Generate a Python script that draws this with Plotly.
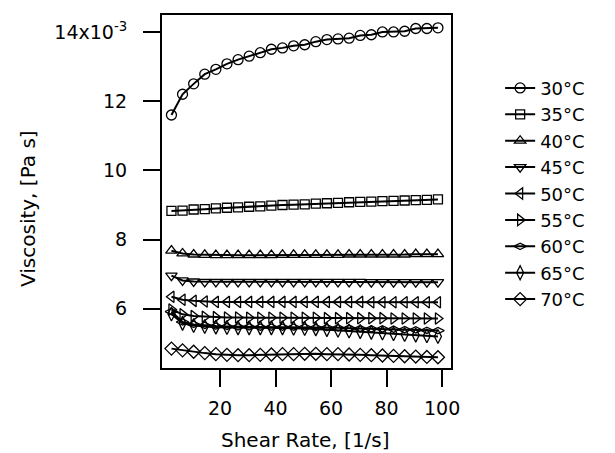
import numpy as np
import plotly.graph_objects as go

# shear rate, 1/s
shear_rate = [2.5, 6.5, 10.5, 14.5, 18.5, 22.5, 26.5, 30.5, 34.5, 38.5, 42.5, 46.5, 50.5,
              54.5, 58.5, 62.5, 66.5, 70.5, 74.5, 78.5, 82.5, 86.5, 90.5, 94.5, 98.5]

# viscosity in units of 1e-3 Pa s
visc_30 = [11.60, 12.20, 12.50, 12.78, 12.92, 13.08, 13.20, 13.30, 13.40, 13.50, 13.54, 13.60, 13.63,
           13.72, 13.78, 13.80, 13.82, 13.90, 13.92, 14.00, 14.00, 14.02, 14.10, 14.10, 14.12]
visc_35 = [8.83, 8.84, 8.87, 8.88, 8.90, 8.92, 8.93, 8.95, 8.96, 8.98, 9.00, 9.01, 9.02,
           9.04, 9.05, 9.06, 9.08, 9.09, 9.10, 9.11, 9.12, 9.13, 9.14, 9.15, 9.16]
visc_40 = [7.68, 7.60, 7.57, 7.56, 7.55, 7.55, 7.55, 7.55, 7.55, 7.55, 7.56, 7.56, 7.56,
           7.56, 7.56, 7.56, 7.57, 7.57, 7.57, 7.57, 7.57, 7.57, 7.58, 7.58, 7.58]
visc_45 = [6.96, 6.82, 6.79, 6.78, 6.78, 6.78, 6.78, 6.78, 6.78, 6.78, 6.78, 6.78, 6.78,
           6.78, 6.78, 6.78, 6.78, 6.78, 6.77, 6.77, 6.77, 6.77, 6.77, 6.77, 6.77]
visc_50 = [6.35, 6.26, 6.23, 6.21, 6.20, 6.20, 6.20, 6.20, 6.20, 6.20, 6.20, 6.20, 6.20,
           6.20, 6.20, 6.20, 6.20, 6.20, 6.19, 6.19, 6.19, 6.19, 6.19, 6.19, 6.19]
visc_55 = [5.98, 5.84, 5.79, 5.77, 5.76, 5.75, 5.75, 5.74, 5.74, 5.74, 5.74, 5.74, 5.74,
           5.74, 5.73, 5.73, 5.73, 5.73, 5.73, 5.73, 5.72, 5.72, 5.72, 5.72, 5.72]
visc_60 = [5.92, 5.62, 5.55, 5.52, 5.50, 5.49, 5.48, 5.48, 5.47, 5.47, 5.47, 5.47, 5.47,
           5.46, 5.46, 5.45, 5.44, 5.43, 5.42, 5.42, 5.41, 5.40, 5.39, 5.38, 5.37]
visc_65 = [5.85, 5.58, 5.52, 5.49, 5.47, 5.46, 5.45, 5.45, 5.45, 5.45, 5.45, 5.44, 5.43,
           5.42, 5.40, 5.38, 5.36, 5.34, 5.32, 5.30, 5.28, 5.26, 5.24, 5.22, 5.20]
visc_70 = [4.85, 4.80, 4.76, 4.72, 4.69, 4.67, 4.66, 4.66, 4.67, 4.68, 4.69, 4.69, 4.70,
           4.70, 4.69, 4.69, 4.68, 4.67, 4.66, 4.65, 4.64, 4.63, 4.62, 4.61, 4.60]

series = [
    ("30°C", visc_30, "circle-open", 10),
    ("35°C", visc_35, "square-open", 9),
    ("40°C", visc_40, "triangle-up-open", 10),
    ("45°C", visc_45, "triangle-down-open", 10),
    ("50°C", visc_50, "triangle-left-open", 10),
    ("55°C", visc_55, "triangle-right-open", 10),
    ("60°C", visc_60, "diamond-wide-open", 9),
    ("65°C", visc_65, "diamond-tall-open", 10),
    ("70°C", visc_70, "diamond-open", 10),
]

y_ticks = [6, 8, 10, 12, 14]
y_ticktext = ["6", "8", "10", "12", "14x10<sup>-3</sup>"]
x_ticks = [20, 40, 60, 80, 100]

fig = go.Figure()

for name, vals, sym, size in series:
    fig.add_trace(go.Scatter(
        x=shear_rate,
        y=np.array(vals) * 1e-3,
        mode="lines+markers",
        name=name,
        line=dict(color="black", width=2),
        marker=dict(symbol=sym, size=size, color="black", line=dict(width=1.3, color="black")),
    ))

# page body adds an 8px offset, margins are compensated for it
fig.update_layout(
    width=615, height=453,
    margin=dict(l=154, r=172, t=7, b=93),
    paper_bgcolor="white",
    plot_bgcolor="white",
    font=dict(family="DejaVu Sans, Liberation Sans, sans-serif", size=19, color="black"),
    showlegend=True,
    legend=dict(
        x=1.17, y=0.845, xanchor="left", yanchor="top",
        font=dict(size=18),
        bgcolor="rgba(0,0,0,0)",
    ),
    annotations=[
        dict(text="Viscosity, [Pa s]", xref="paper", yref="paper", x=-0.464, y=0.453,
             xanchor="center", yanchor="middle", textangle=-90, showarrow=False,
             font=dict(size=20)),
        dict(text="Shear Rate, [1/s]", xref="paper", yref="paper", x=0.495, y=-0.203,
             xanchor="center", yanchor="middle", showarrow=False, font=dict(size=20)),
    ],
)

fig.update_xaxes(
    range=[-0.9, 103.2],
    tickvals=x_ticks,
    ticks="outside", ticklen=17, tickwidth=2, tickcolor="black",
    ticklabelstandoff=5,
    showline=True, linewidth=2, linecolor="black", mirror=True,
    showgrid=False, zeroline=False, automargin=False,
)

fig.update_yaxes(
    range=[4.29e-3, 14.49e-3],
    tickvals=[v * 1e-3 for v in y_ticks],
    ticktext=y_ticktext,
    ticks="outside", ticklen=17, tickwidth=2, tickcolor="black",
    ticklabelstandoff=12,
    showline=True, linewidth=2, linecolor="black", mirror=True,
    showgrid=False, zeroline=False, automargin=False,
)

fig.write_html("out.html")
